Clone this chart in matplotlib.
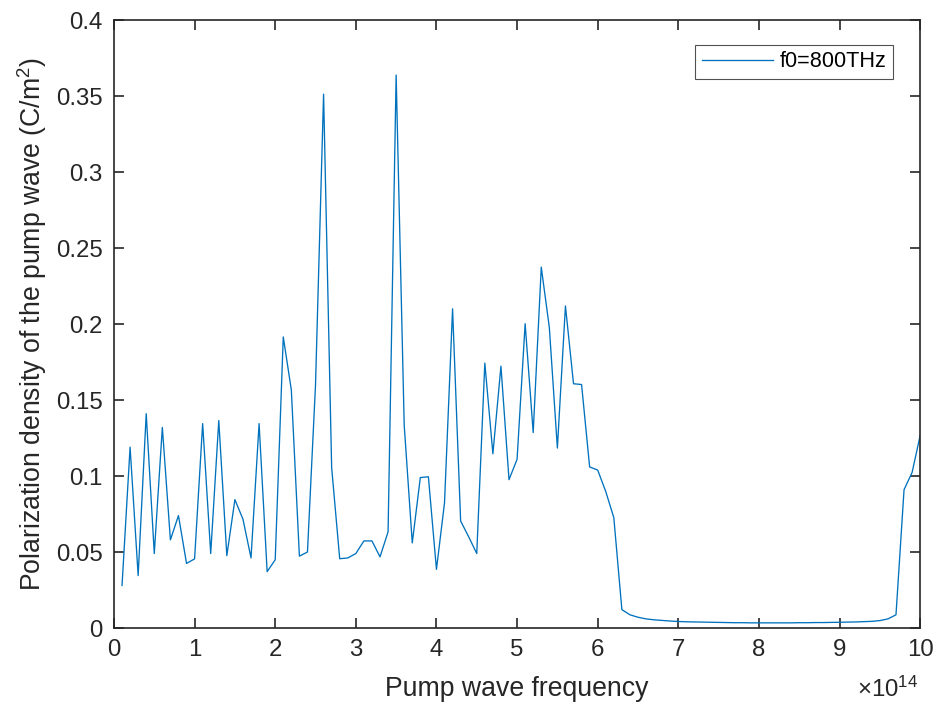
import numpy as np
import matplotlib
matplotlib.use("Agg")
import matplotlib.pyplot as plt

plt.rcParams['font.family'] = ['Liberation Sans', 'DejaVu Sans']
plt.rcParams['mathtext.fontset'] = 'custom'
plt.rcParams['mathtext.rm'] = 'Liberation Sans'
plt.rcParams['mathtext.it'] = 'Liberation Sans:italic'
plt.rcParams['mathtext.bf'] = 'Liberation Sans:bold'

# Pump frequency samples (units of 1e14 Hz)
freq = [0.1, 0.2, 0.3, 0.4, 0.5, 0.6, 0.7, 0.8, 0.9, 1.0,
        1.1, 1.2, 1.3, 1.4, 1.5, 1.6, 1.7, 1.8, 1.9, 2.0,
        2.1, 2.2, 2.3, 2.4, 2.5, 2.6, 2.7, 2.8, 2.9, 3.0,
        3.1, 3.2, 3.3, 3.4, 3.5, 3.6, 3.7, 3.8, 3.9, 4.0,
        4.1, 4.2, 4.3, 4.4, 4.5, 4.6, 4.7, 4.8, 4.9, 5.0,
        5.1, 5.2, 5.3, 5.4, 5.5, 5.6, 5.7, 5.8, 5.9, 6.0,
        6.1, 6.2, 6.3, 6.4, 6.5, 6.6, 6.7, 6.8, 6.9, 7.0,
        7.1, 7.2, 7.3, 7.4, 7.5, 7.6, 7.7, 7.8, 7.9, 8.0,
        8.1, 8.2, 8.3, 8.4, 8.5, 8.6, 8.7, 8.8, 8.9, 9.0,
        9.1, 9.2, 9.3, 9.4, 9.5, 9.6, 9.7, 9.8, 9.9, 10.0]

# Polarization density (C/m^2)
polarization = [0.028, 0.119, 0.0345, 0.141, 0.049, 0.132, 0.058, 0.074, 0.0425, 0.0455,
                0.1345, 0.049, 0.1365, 0.0476, 0.0845, 0.0716, 0.0461, 0.1345, 0.0371, 0.0449,
                0.1915, 0.1566, 0.0473, 0.050, 0.160, 0.3512, 0.1056, 0.0456, 0.0461, 0.049,
                0.0573, 0.0573, 0.0468, 0.0633, 0.3638, 0.1335, 0.056, 0.099, 0.0995, 0.0386,
                0.0823, 0.210, 0.0704, 0.060, 0.049, 0.1743, 0.1146, 0.1723, 0.0976, 0.111,
                0.2002, 0.1286, 0.2374, 0.1978, 0.1184, 0.2119, 0.1607, 0.1602, 0.106, 0.1039,
                0.0898, 0.0726, 0.0121, 0.0087, 0.0071, 0.0060, 0.0054, 0.0050, 0.0046, 0.0043,
                0.0041, 0.0040, 0.0039, 0.0038, 0.0037, 0.0036, 0.0035, 0.0035, 0.0034, 0.0034,
                0.0034, 0.0034, 0.0034, 0.0034, 0.0035, 0.0035, 0.0036, 0.0036, 0.0037, 0.0038,
                0.0039, 0.0040, 0.0042, 0.0044, 0.0049, 0.0060, 0.0087, 0.091, 0.1024, 0.1267]

xticks = [0, 1, 2, 3, 4, 5, 6, 7, 8, 9, 10]
yticks = [0, 0.05, 0.1, 0.15, 0.2, 0.25, 0.3, 0.35, 0.4]
ytick_labels = ['0', '0.05', '0.1', '0.15', '0.2', '0.25', '0.3', '0.35', '0.4']

axis_color = '#262626'
line_color = '#0072BD'

fig = plt.figure(figsize=(9.38, 7.07), dpi=100)
ax = fig.add_axes([0.1215, 0.1117, 0.8595, 0.86])

ax.plot(freq, polarization, color=line_color, linewidth=0.95, label='f0=800THz')

ax.set_xlim(0, 10)
ax.set_ylim(0, 0.4)
ax.set_xticks(xticks)
ax.set_xticklabels([str(t) for t in xticks])
ax.set_yticks(yticks)
ax.set_yticklabels(ytick_labels)

ax.tick_params(direction='in', length=7, width=1.2, colors=axis_color,
               labelsize=17.3, top=True, right=True, pad=8)
for side in ax.spines.values():
    side.set_color(axis_color)
    side.set_linewidth(1.2)

ax.set_xlabel('Pump wave frequency', fontsize=19.2, color=axis_color, labelpad=11)
ax.set_ylabel('Polarization density of the pump wave (C/m$^2$)', fontsize=19.2,
              color=axis_color, labelpad=5)

ax.text(0.9975, -0.1135, r'$\times$10$^{14}$', transform=ax.transAxes,
        ha='right', va='baseline', fontsize=17.3, color=axis_color)

leg = ax.legend(loc='upper right', bbox_to_anchor=(0.9665, 0.9589), fontsize=15.6,
                frameon=True, fancybox=False, handlelength=3.3, borderpad=0.3,
                handletextpad=0.3, borderaxespad=0)
leg.get_frame().set_edgecolor(axis_color)
leg.get_frame().set_linewidth(0.8)

fig.savefig('out.png', dpi=100)
